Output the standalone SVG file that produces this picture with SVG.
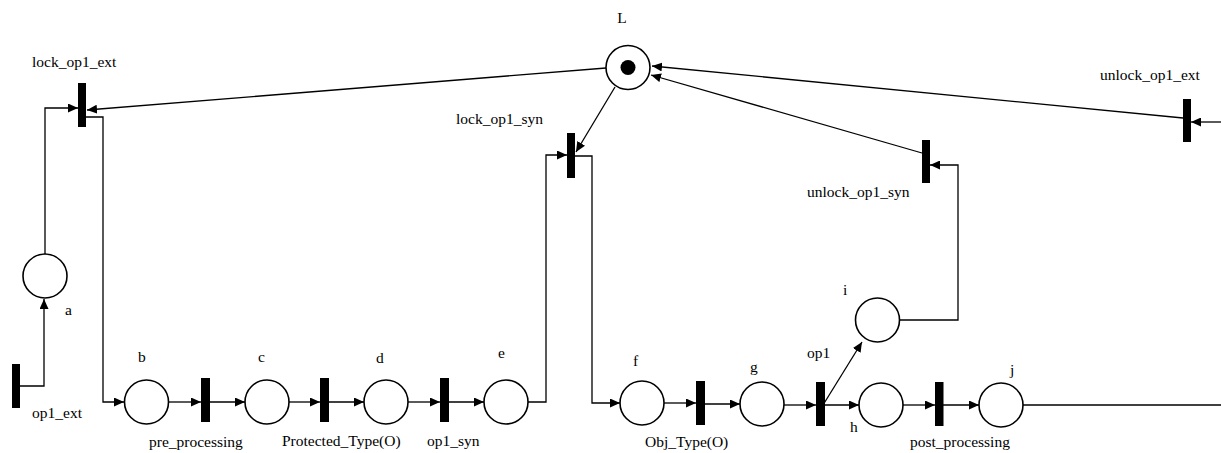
<svg xmlns="http://www.w3.org/2000/svg" width="1221" height="453" viewBox="0 0 1221 453">
<style>
.p{fill:#fff;stroke:#000;stroke-width:1.6}
.t{fill:#000}
.c{fill:none;stroke:#000;stroke-width:1.3}
text{font-family:"Liberation Serif","Times New Roman",serif;font-size:15.5px;fill:#000}
</style>
<defs>
<marker id="ah" markerUnits="userSpaceOnUse" markerWidth="11" markerHeight="9" refX="10" refY="4.5" orient="auto" viewBox="0 0 11 9">
<path d="M0,0 L10,4.5 L0,9 z" fill="#000"/>
</marker>
</defs>
<rect width="1221" height="453" fill="#fff"/>
<g id="connectors">
<polyline class="c" points="20,386 44,386 44,299" marker-end="url(#ah)"/>
<polyline class="c" points="45,254 45,108 78,108" marker-end="url(#ah)"/>
<polyline class="c" points="86,117 103,117 103,402 124,402" marker-end="url(#ah)"/>
<line class="c" x1="169" y1="402" x2="201" y2="402" marker-end="url(#ah)"/>
<line class="c" x1="210" y1="402" x2="245" y2="402" marker-end="url(#ah)"/>
<line class="c" x1="289" y1="402" x2="320" y2="402" marker-end="url(#ah)"/>
<line class="c" x1="329" y1="402" x2="364" y2="402" marker-end="url(#ah)"/>
<line class="c" x1="408" y1="402" x2="440" y2="402" marker-end="url(#ah)"/>
<line class="c" x1="449" y1="402" x2="484" y2="402" marker-end="url(#ah)"/>
<polyline class="c" points="528,402 546,402 546,155 567,155" marker-end="url(#ah)"/>
<line class="c" x1="615" y1="87" x2="576" y2="152" marker-end="url(#ah)"/>
<line class="c" x1="606" y1="68" x2="87" y2="110" marker-end="url(#ah)"/>
<polyline class="c" points="575,156 592,156 592,403 620,403" marker-end="url(#ah)"/>
<line class="c" x1="664" y1="403" x2="696" y2="403" marker-end="url(#ah)"/>
<line class="c" x1="705" y1="404" x2="740" y2="404" marker-end="url(#ah)"/>
<line class="c" x1="784" y1="405" x2="816" y2="405" marker-end="url(#ah)"/>
<line class="c" x1="825" y1="405" x2="859" y2="405" marker-end="url(#ah)"/>
<line class="c" x1="823" y1="405" x2="862" y2="342" marker-end="url(#ah)"/>
<polyline class="c" points="900,320 958,320 958,165 930,165" marker-end="url(#ah)"/>
<line class="c" x1="922" y1="153" x2="651" y2="75" marker-end="url(#ah)"/>
<line class="c" x1="903" y1="405" x2="935" y2="405" marker-end="url(#ah)"/>
<line class="c" x1="943" y1="405" x2="979" y2="405" marker-end="url(#ah)"/>
<line class="c" x1="1023" y1="405" x2="1221" y2="405"/>
<line class="c" x1="1221" y1="122" x2="1191" y2="122" marker-end="url(#ah)"/>
<line class="c" x1="1183" y1="118" x2="652" y2="66" marker-end="url(#ah)"/>
</g>
<g id="L"><circle class="p" cx="628" cy="67.5" r="22"/><circle class="t" cx="628" cy="67.5" r="7.5"/><text x="622" y="23" text-anchor="middle">L</text></g>
<g id="lock_op1_ext"><rect class="t" x="78" y="83" width="8" height="44"/><text x="32" y="67">lock_op1_ext</text></g>
<g id="op1_ext"><rect class="t" x="12" y="364" width="8" height="44"/><text x="32" y="418">op1_ext</text></g>
<g id="a"><circle class="p" cx="45" cy="276" r="22"/><text x="65" y="315">a</text></g>
<g id="b"><circle class="p" cx="146.5" cy="402" r="22"/><text x="138" y="362">b</text></g>
<g id="pre_processing"><rect class="t" x="201" y="378" width="9" height="44"/><text x="149" y="447">pre_processing</text></g>
<g id="c"><circle class="p" cx="267" cy="402" r="22"/><text x="258" y="362">c</text></g>
<g id="Protected_Type"><rect class="t" x="320" y="378" width="9" height="44"/><text x="282" y="446">Protected_Type(O)</text></g>
<g id="d"><circle class="p" cx="386" cy="402" r="22"/><text x="376" y="363">d</text></g>
<g id="op1_syn"><rect class="t" x="440" y="378" width="9" height="44"/><text x="427" y="446">op1_syn</text></g>
<g id="e"><circle class="p" cx="506" cy="402" r="22"/><text x="498" y="358">e</text></g>
<g id="lock_op1_syn"><rect class="t" x="567" y="133" width="8" height="45"/><text x="456" y="124">lock_op1_syn</text></g>
<g id="f"><circle class="p" cx="642" cy="403" r="22"/><text x="633" y="366">f</text></g>
<g id="Obj_Type"><rect class="t" x="696" y="381" width="9" height="44"/><text x="645" y="447">Obj_Type(O)</text></g>
<g id="g"><circle class="p" cx="762" cy="404" r="22"/><text x="750" y="372">g</text></g>
<g id="op1"><rect class="t" x="816" y="382" width="9" height="44"/><text x="807" y="358">op1</text></g>
<g id="h"><circle class="p" cx="881" cy="405" r="22"/><text x="850" y="432">h</text></g>
<g id="i"><circle class="p" cx="877.5" cy="320" r="22"/><text x="843" y="295">i</text></g>
<g id="unlock_op1_syn"><rect class="t" x="922" y="140" width="8" height="43"/><text x="807" y="197">unlock_op1_syn</text></g>
<g id="post_processing"><rect class="t" x="935" y="382" width="8.5" height="44"/><text x="910" y="447">post_processing</text></g>
<g id="j"><circle class="p" cx="1001" cy="405" r="22"/><text x="1010" y="375">j</text></g>
<g id="unlock_op1_ext"><rect class="t" x="1183" y="99" width="8" height="43"/><text x="1100" y="80">unlock_op1_ext</text></g>
</svg>
